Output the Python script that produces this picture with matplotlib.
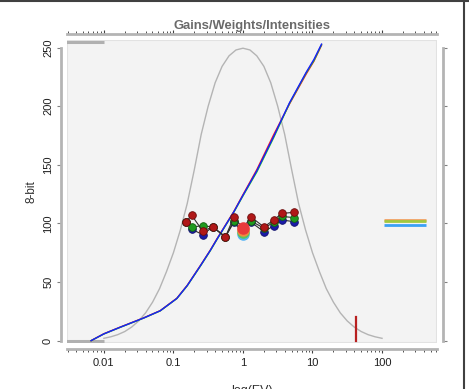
import numpy as np
import matplotlib
matplotlib.use("Agg")
import matplotlib.pyplot as plt
from matplotlib.patches import Rectangle
from matplotlib.lines import Line2D
from matplotlib.ticker import LogLocator, FixedLocator, NullFormatter

plt.rcParams['font.family'] = ['Liberation Sans', 'DejaVu Sans']

# ---- data ----
# weighting (gray bell) curve
weight_x = [0.01, 0.0126, 0.0158, 0.02, 0.0251, 0.0316, 0.0398, 0.0501, 0.0631, 0.0794,
            0.1, 0.126, 0.158, 0.2, 0.251, 0.316, 0.398, 0.501, 0.631, 0.794,
            1.0, 1.26, 1.58, 2.0, 2.51, 3.16, 3.98, 5.01, 6.31, 7.94,
            10, 12.6, 15.8, 20, 25.1, 31.6, 39.8, 50.1, 63.1, 79.4, 100]
weight_y = [2.0, 3.3, 5.1, 7.8, 11.6, 16.8, 23.7, 32.8, 44.3, 58.8,
            75.0, 94.5, 117.0, 146.0, 176.0, 200.0, 220.0, 234.0, 243.0, 248.0,
            249.5, 248.0, 243.0, 234.0, 220.0, 200.0, 176.0, 146.0, 117.0, 94.5,
            75.0, 58.8, 44.3, 32.8, 23.7, 16.8, 11.6, 7.8, 5.1, 3.3, 2.0]

# response curves (one per channel)
resp_x = [0.00655, 0.01, 0.0174, 0.0372, 0.0646, 0.112, 0.158, 0.245, 0.339, 0.427,
          0.741, 1.0, 1.585, 2.754, 4.677, 8.128, 10.5, 13.49]
resp_r = [0, 5.9, 11.7, 19.4, 25.6, 36.2, 47.2, 64.2, 77.2, 87.3,
          110.3, 124.5, 146.0, 175.5, 202.0, 227.5, 238.5, 252.0]
resp_g = [0, 5.7, 11.5, 19.2, 25.4, 35.9, 46.8, 63.7, 76.7, 86.7,
          109.7, 123.5, 144.0, 173.0, 202.5, 228.5, 239.0, 252.5]
resp_b = [0, 5.8, 11.6, 19.3, 25.5, 36.0, 47.0, 64.0, 77.0, 87.0,
          110.0, 124.0, 145.0, 174.0, 203.0, 229.0, 240.0, 253.0]

# exposure points (gains)
exp_x = [0.152, 0.183, 0.264, 0.368, 0.56, 0.738, 1.0, 1.31, 2.0, 2.78, 3.6, 5.4]
pts_r = [101.5, 107.0, 93.5, 97.0, 88.5, 105.5, 96.0, 105.5, 97.0, 103.0, 108.5, 109.5]
pts_g = [101.5, 97.0, 98.0, 97.0, 88.5, 102.0, 94.0, 102.0, 96.0, 101.0, 106.0, 105.0]
pts_b = [101.5, 95.0, 90.5, 97.0, 88.5, 101.0, 92.0, 101.0, 93.0, 98.0, 103.0, 101.5]

# reference exposure (big markers)
ref_x = 1.0
ref_vals = [91.0, 92.8, 94.6, 96.5]
ref_cols = ['#55b4f5', '#5cc45c', '#f08a40', '#e83a3a']

# horizontal level segments at right
level_x = [107, 427]
level_r = 103.3
level_g = 102.0
level_b = 98.6

# clipping bars at left
clip_x = [0.0029, 0.0101]
clip_low = 0
clip_high = 255

# marker at right (vertical)
mark_x = 42
mark_y = [0, 20]

# ---- figure ----
fig = plt.figure(figsize=(4.69, 3.89), dpi=100)
ax = fig.add_axes([67/469, 1-343/389, (437-67)/469, (343-40)/389])
ax.set_facecolor('#f3f3f3')
ax.set_xscale('log')
ax.set_xlim(0.00295, 617)
ax.set_ylim(-2, 256.5)

ax.add_patch(Rectangle((0, 0), 1, 1, transform=ax.transAxes, fill=False,
                       edgecolor='#e2e2e2', lw=1.5, zorder=0.5))

ax.plot(weight_x, weight_y, color='#b4b4b4', lw=1.0, zorder=2)
ax.plot(clip_x, [clip_low, clip_low], color='#b0b0b0', lw=2.2, zorder=2, solid_capstyle='butt')
ax.plot(clip_x, [clip_high, clip_high], color='#b0b0b0', lw=2.2, zorder=2, solid_capstyle='butt')

ax.plot(resp_x, resp_r, color='#ff2020', lw=1.0, zorder=3)
ax.plot(resp_x, resp_g, color='#20d020', lw=1.0, zorder=3)
ax.plot(resp_x, resp_b, color='#1a1aff', lw=1.0, zorder=3.1)

ax.plot([mark_x, mark_x], mark_y, color='#b82020', lw=1.6, zorder=3)

ax.plot(level_x, [level_r, level_r], color='#f0a060', lw=2.0, zorder=3, solid_capstyle='butt')
ax.plot(level_x, [level_g, level_g], color='#a0c840', lw=2.0, zorder=3, solid_capstyle='butt')
ax.plot(level_x, [level_b, level_b], color='#3aa0f5', lw=2.0, zorder=3, solid_capstyle='butt')

for vals, fc, ec, zo in [(pts_b, '#1a1aa8', '#10106a', 4), (pts_g, '#1f9a1f', '#106010', 4.1),
                         (pts_r, '#b01818', '#6a0c0c', 4.2)]:
    ax.plot(exp_x, vals, color='#303030', lw=0.8, zorder=zo)
    ax.plot(exp_x, vals, ls='none', marker='o', ms=5.5, mfc=fc, mec=ec, mew=0.6, zorder=zo + 0.05)

for v, c in zip(ref_vals, ref_cols):
    ax.plot([ref_x], [v], ls='none', marker='o', ms=8, mfc=c, mec=c, zorder=5)

# ---- axes styling ----
spine_col = '#b4b4b4'
for s in ['left', 'right', 'top', 'bottom']:
    ax.spines[s].set_position(('outward', 4))
    ax.spines[s].set_color(spine_col)
    ax.spines[s].set_linewidth(2)
ax.spines['left'].set_bounds(0, 250)
ax.spines['right'].set_bounds(0, 250)

ax.set_yticks([0, 50, 100, 150, 200, 250])
ax.set_yticklabels(['0', '50', '100', '150', '200', '250'], rotation=90, va='center')
ax.xaxis.set_major_locator(FixedLocator([0.01, 0.1, 1, 10, 100]))
ax.set_xticklabels(['0.01', '0.1', '1', '10', '100'])
ax.xaxis.set_minor_locator(LogLocator(base=10, subs=np.arange(2, 10), numticks=20))
ax.xaxis.set_minor_formatter(NullFormatter())

ax.tick_params(axis='x', which='major', top=True, bottom=True, length=3, width=0.8,
               color='#404040', labelsize=8, pad=4, labelcolor='#202020')
ax.tick_params(axis='x', which='minor', top=True, bottom=True, length=2, width=0.7,
               color='#505050')
ax.tick_params(axis='y', which='major', left=True, right=True, length=3, width=0.8,
               color='#808080', labelsize=8, pad=3, labelcolor='#202020')

ax.set_title('Gains/Weights/Intensities', fontsize=9.4, fontweight='bold', color='#6a6a6a', pad=8)
ax.set_xlabel('log(EV)', fontsize=9, color='#303030', labelpad=12)
ax.set_ylabel('8-bit', fontsize=8.5, color='#303030', labelpad=4)

# window frame lines
fig.add_artist(Line2D([0, 1], [1 - 0.5/389, 1 - 0.5/389], transform=fig.transFigure,
                      color='#404040', lw=1.5))
fig.add_artist(Line2D([463.5/469, 463.5/469], [0, 1], transform=fig.transFigure,
                      color='#404040', lw=1.5))

fig.savefig('out.png', dpi=100)
